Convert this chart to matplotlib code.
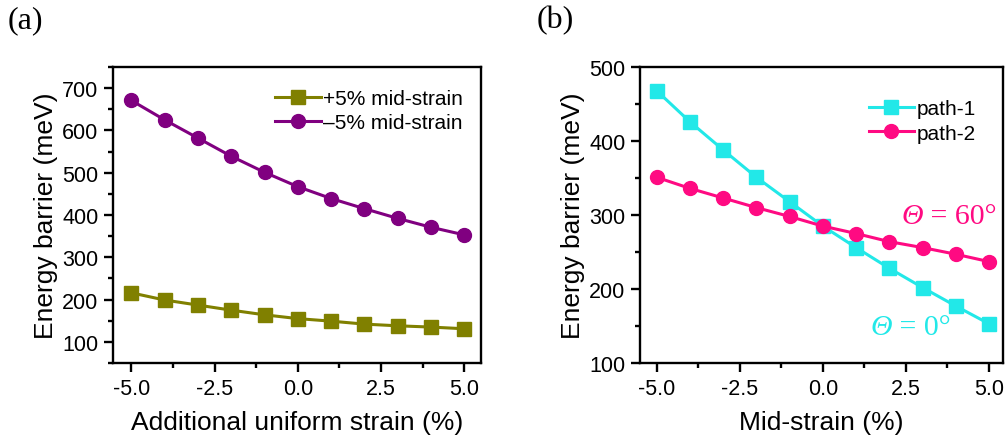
import matplotlib
matplotlib.use("Agg")
import matplotlib.pyplot as plt
from matplotlib.ticker import MultipleLocator

plt.rcParams['font.family'] = ['Liberation Sans', 'DejaVu Sans']

# panel (a)
strain_a = [-5, -4, -3, -2, -1, 0, 1, 2, 3, 4, 5]
plus5 = [216, 199, 187, 175, 164, 155, 149, 142, 138, 135, 131]
minus5 = [671, 625, 582, 539, 501, 467, 439, 415, 392, 371, 353]

# panel (b)
strain_b = [-5, -4, -3, -2, -1, 0, 1, 2, 3, 4, 5]
path1 = [468, 426, 388, 351, 318, 285, 256, 228, 202, 177, 153]
path2 = [351, 336, 323, 310, 298, 285, 275, 264, 256, 247, 237]

xticks = [-5, -2.5, 0, 2.5, 5]
xticklabels = ['-5.0', '-2.5', '0.0', '2.5', '5.0']

OLIVE = '#808000'
PURPLE = '#800080'
CYAN = '#22E8E8'
PINK = '#FF0A82'
SERIF = ['Liberation Serif', 'DejaVu Serif']

fig = plt.figure(figsize=(10.06, 4.39), dpi=100)
axA = fig.add_axes([0.1123, 0.1708, 0.3658, 0.6743])
axB = fig.add_axes([0.6362, 0.1708, 0.3608, 0.6743])


def style_axis(ax):
    for s in ax.spines.values():
        s.set_linewidth(1.7)
    ax.set_xticks(xticks)
    ax.set_xticklabels(xticklabels)
    ax.xaxis.set_minor_locator(MultipleLocator(1.25))
    ax.yaxis.set_minor_locator(MultipleLocator(50))
    ax.tick_params(which='both', direction='out', width=1.7, top=False, right=False,
                   labelsize=15.5, colors='black')
    ax.tick_params(which='major', length=6.5, pad=4)
    ax.tick_params(which='minor', length=3.5)


def theta_label(ax, x, y, rest, color):
    # italic theta followed by upright "= value"
    t = ax.text(x, y, '\u0398', transform=ax.transAxes, color=color, fontsize=21.5,
                family=SERIF, style='italic', ha='left', va='center')
    ax.annotate(rest, xy=(1, 0), xycoords=t, color=color, fontsize=21.5,
                family=SERIF, ha='left', va='bottom')


# (a)
axA.plot(strain_a, plus5, '-s', color=OLIVE, lw=2.2, ms=10, label='+5% mid-strain')
axA.plot(strain_a, minus5, '-o', color=PURPLE, lw=2.2, ms=10, label='\u20135% mid-strain')
axA.set_xlim(-5.55, 5.5)
axA.set_ylim(50, 750)
style_axis(axA)
axA.set_yticks([100, 200, 300, 400, 500, 600, 700])
axA.set_xlabel('Additional uniform strain (%)', fontsize=19, labelpad=8)
axA.set_ylabel('Energy barrier (meV)', fontsize=19, labelpad=3)
axA.legend(loc='upper right', frameon=False, fontsize=15, handlelength=2.2,
           handletextpad=0.1, borderaxespad=0.3, labelspacing=0.25,
           bbox_to_anchor=(0.99, 0.975))

# (b)
axB.plot(strain_b, path1, '-s', color=CYAN, lw=2.2, ms=10, label='path-1')
axB.plot(strain_b, path2, '-o', color=PINK, lw=2.2, ms=10, label='path-2')
axB.set_xlim(-5.5, 5.42)
axB.set_ylim(100, 500)
style_axis(axB)
axB.set_yticks([100, 200, 300, 400, 500])
axB.set_xlabel('Mid-strain (%)', fontsize=19, labelpad=8)
axB.set_ylabel('Energy barrier (meV)', fontsize=19, labelpad=3)
axB.legend(loc='upper right', frameon=False, fontsize=15, handlelength=2.2,
           handletextpad=0.1, borderaxespad=0.3, labelspacing=0.25,
           bbox_to_anchor=(0.965, 0.94))

theta_label(axB, 0.72, 0.495, ' = 60\u00b0', PINK)
theta_label(axB, 0.635, 0.12, ' = 0\u00b0', CYAN)

fig.text(0.008, 0.952, '(a)', fontsize=23, family=SERIF, va='center', ha='left')
fig.text(0.533, 0.952, '(b)', fontsize=23, family=SERIF, va='center', ha='left')

fig.savefig('out.png', dpi=100)
